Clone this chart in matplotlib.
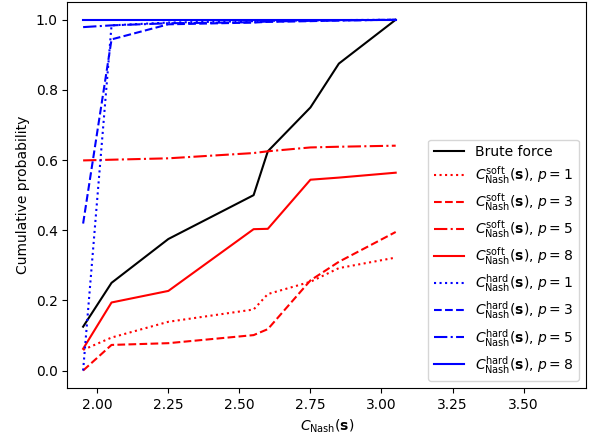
import matplotlib
matplotlib.use("Agg")
import matplotlib.pyplot as plt

x = [1.95, 2.05, 2.25, 2.55, 2.6, 2.75, 2.85, 3.05]

brute = [0.125, 0.25, 0.375, 0.5, 0.625, 0.75, 0.875, 1.0]

soft_p1 = [0.059, 0.094, 0.139, 0.174, 0.218, 0.253, 0.292, 0.322]
soft_p3 = [0.0, 0.073, 0.078, 0.101, 0.118, 0.257, 0.31, 0.395]
soft_p5 = [0.599, 0.601, 0.605, 0.62, 0.625, 0.636, 0.638, 0.641]
soft_p8 = [0.062, 0.194, 0.227, 0.403, 0.404, 0.544, 0.55, 0.564]

hard_p1 = [0.0, 0.984, 0.992, 0.996, 0.997, 0.998, 0.999, 1.0]
hard_p3 = [0.419, 0.944, 0.987, 0.992, 0.994, 0.996, 0.998, 1.0]
hard_p5 = [0.979, 0.984, 0.99, 0.993, 0.995, 0.997, 0.998, 1.0]
hard_p8 = [1.0, 1.0, 1.0, 1.0, 1.0, 1.0, 1.0, 1.0]

soft = [soft_p1, soft_p3, soft_p5, soft_p8]
hard = [hard_p1, hard_p3, hard_p5, hard_p8]
p_values = [1, 3, 5, 8]
styles = [':', '--', '-.', '-']

fig = plt.figure(figsize=(5.92, 4.42), dpi=100)
ax = fig.add_axes([0.114, 0.122, 0.876, 0.873])

ax.plot(x, brute, color='black', label='Brute force')
for p, ls, ys in zip(p_values, styles, soft):
    ax.plot(x, ys, color='red', linestyle=ls,
            label=r'$C^{\mathrm{soft}}_{\mathrm{Nash}}(\mathbf{s})$, $p=%d$' % p)
for p, ls, ys in zip(p_values, styles, hard):
    ax.plot(x, ys, color='blue', linestyle=ls,
            label=r'$C^{\mathrm{hard}}_{\mathrm{Nash}}(\mathbf{s})$, $p=%d$' % p)

ax.set_xlim(1.895, 3.72)
ax.set_ylim(-0.05, 1.05)
ax.set_xticks([2.0, 2.25, 2.5, 2.75, 3.0, 3.25, 3.5])
ax.set_xlabel(r'$C_{\mathrm{Nash}}(\mathbf{s})$')
ax.set_ylabel('Cumulative probability')
ax.legend(loc='lower right', labelspacing=0.37, handlelength=2.2)

fig.savefig('out.png', dpi=100)
